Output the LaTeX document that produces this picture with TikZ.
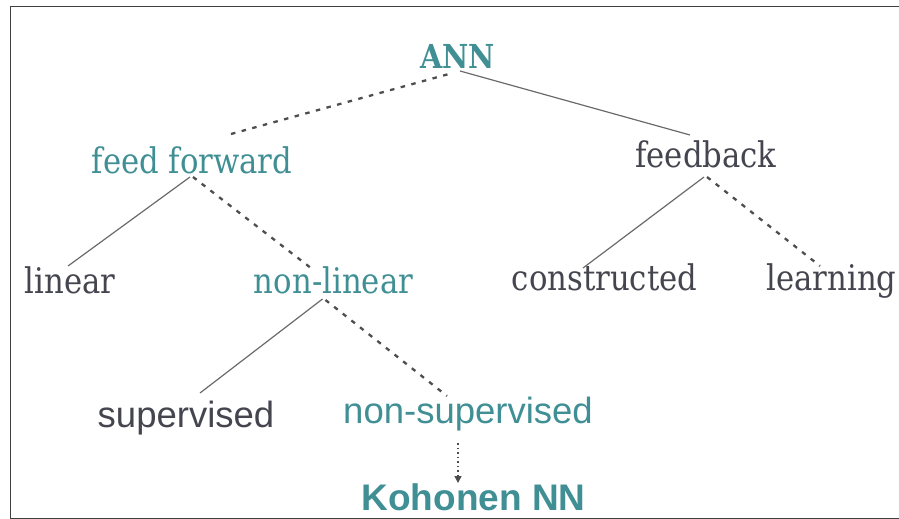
\documentclass[tikz,border=0pt]{standalone}
\usepackage{fontspec}
\usetikzlibrary{calc,arrows.meta}
\newfontfamily\treeserif[FakeStretch=0.87]{DejaVu Serif}
\newfontfamily\rootserif[FakeStretch=0.87]{DejaVu Serif}
\newfontfamily\treesans{Liberation Sans}
\definecolor{teal}{HTML}{3F8F94}
\definecolor{ink}{HTML}{45454F}
\definecolor{wire}{HTML}{6A6A6A}
\definecolor{dashwire}{HTML}{4E4E4E}
\tikzset{
  lbl/.style={inner sep=0pt, anchor=base},
  serifterm/.style={lbl, font=\treeserif\fontsize{35.3}{38}\selectfont},
  sansterm/.style={lbl, font=\treesans\fontsize{36.5}{38}\selectfont},
  headterm/.style={teal},
  leafterm/.style={ink},
  solidlink/.style={draw=wire, line width=1.2pt},
  dashlink/.style={draw=dashwire, line width=2.3pt, dash pattern=on 4.5pt off 6.5pt},
  dotlink/.style={draw=dashwire, line width=1.4pt, dash pattern=on 1.5pt off 3pt,
    -{Triangle[width=7pt,length=7pt,fill=ink]}},
}
\begin{document}
\begin{tikzpicture}[x=1pt,y=-1pt]
  \useasboundingbox (0,0) rectangle (899,519);
  % outer frame (open on the right)
  \draw[black!75, line width=1pt] (899,7) -- (10,7) -- (10,518) -- (899,518);

  % terms
  \node[lbl, headterm, font=\rootserif\bfseries\fontsize{33}{36}\selectfont] (ann) at (457.5,69) {ANN};
  \node[serifterm, headterm] (ff)  at (192,173) {feed forward};
  \node[serifterm, leafterm] (fb)  at (706,167) {feedback};
  \node[serifterm, leafterm] (lin) at (70,293) {linear};
  \node[serifterm, headterm] (nl)  at (333.5,293) {non-linear};
  \node[serifterm, leafterm] (con) at (604.5,290) {constructed};
  \node[serifterm, leafterm] (lrn) at (831.5,290) {learning};
  \node[sansterm, leafterm] (sup)  at (186,427) {supervised};
  \node[sansterm, headterm] (nsup) at (468,423) {non-supervised};
  \node[sansterm, headterm, font=\treesans\bfseries\fontsize{37}{39}\selectfont] (koh) at (473.5,510) {Kohonen NN};

  % branches
  \draw[dashlink]  ($(ff.base)+(39,-39)$) -- ($(ann.base)+(-5,4)$);
  \draw[solidlink] ($(ann.base)+(2.5,2)$) -- ($(fb.base)+(-16,-32)$);
  \draw[solidlink] ($(ff.base)+(-2,4)$) -- ($(lin.base)+(-2,-27)$);
  \draw[dashlink]  ($(ff.base)+(1,4)$) -- ($(nl.base)+(-20,-23)$);
  \draw[solidlink] ($(nl.base)+(-11,6)$) -- ($(sup.base)+(14,-34)$);
  \draw[dashlink]  ($(nl.base)+(-8,7)$) -- ($(nsup.base)+(-21,-27)$);
  \draw[solidlink] ($(fb.base)+(-2,10)$) -- ($(con.base)+(-21.5,-22)$);
  \draw[dashlink]  ($(fb.base)+(1,10)$) -- ($(lrn.base)+(-11.5,-24)$);
  \draw[dotlink]   ($(nsup.base)+(-10,20)$) -- ($(koh.base)+(-15.5,-27)$);
\end{tikzpicture}
\end{document}
